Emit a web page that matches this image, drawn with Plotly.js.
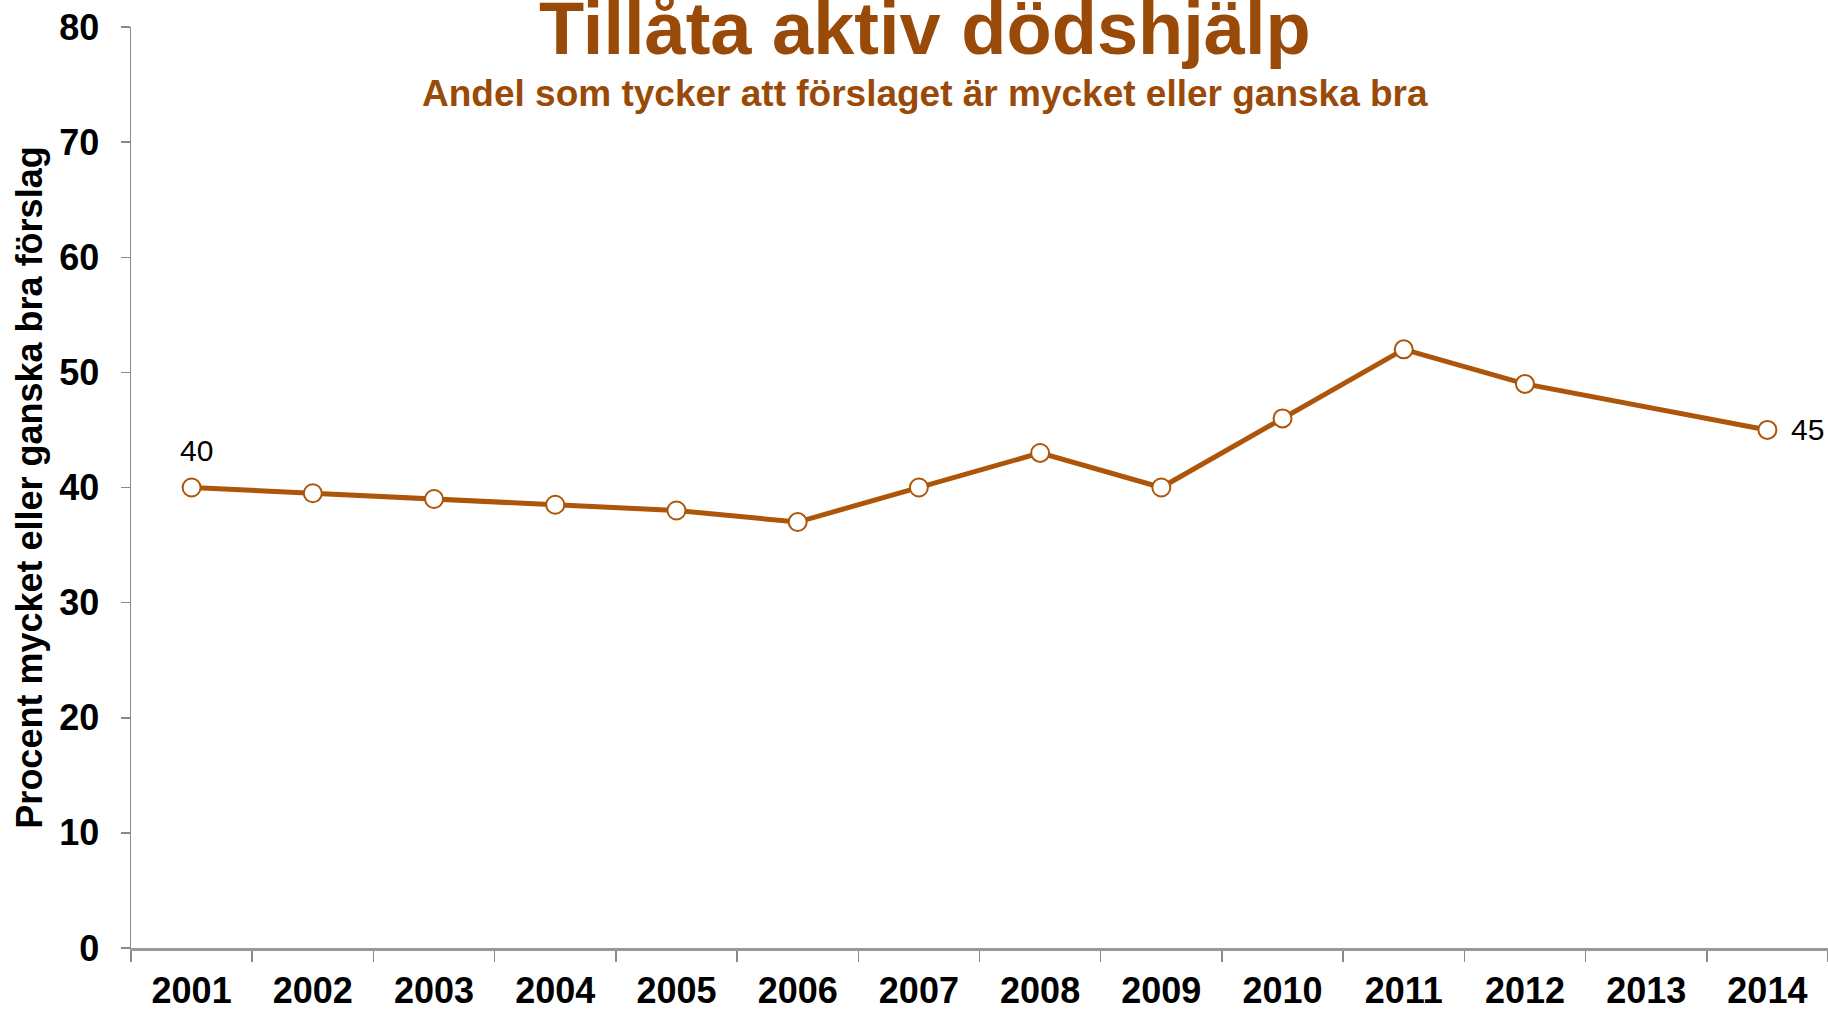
<!DOCTYPE html>
<html>
<head>
<meta charset="utf-8">
<script src="https://cdn.plot.ly/plotly-3.0.1.min.js"></script>
<style>html,body{margin:0;padding:0;background:#fff;}#chart{width:1828px;height:1009px;}</style>
</head>
<body>
<div id="chart"></div>
<script>
const years = ['2001','2002','2003','2004','2005','2006','2007','2008','2009','2010','2011','2012','2013','2014'];
const values = [40, 39.5, 39, 38.5, 38, 37, 40, 43, 40, 46, 52, 49, null, 45];
const labels = ['40','','','','','','','','','','','','','45'];
const yTicks = [0,10,20,30,40,50,60,70,80];

const titleText = 'Tillåta aktiv dödshjälp';
const subtitleText = 'Andel som tycker att förslaget är mycket eller ganska bra';
const yTitleText = 'Procent mycket eller ganska bra förslag';

const brown = '#AD5508';
const titleBrown = '#9A4A08';
const fontFam = '"Liberation Sans", Arial, Helvetica, sans-serif';

const trace = {
  x: years,
  y: values,
  type: 'scatter',
  mode: 'lines+markers',
  connectgaps: true,
  cliponaxis: false,
  line: {color: brown, width: 5},
  marker: {size: 18, color: '#ffffff', line: {color: brown, width: 2}},
  hoverinfo: 'x+y'
};

// value labels, placed at the data points (category index on the x axis)
const valueLabels = [];
labels.forEach((t, i) => {
  if (!t) return;
  const last = i === labels.length - 1;
  valueLabels.push({
    text: t, x: i, y: values[i], xref: 'x', yref: 'y', showarrow: false,
    xanchor: last ? 'left' : 'center', yanchor: 'middle',
    xshift: last ? 22 : 5, yshift: last ? 0 : 37,
    font: {family: fontFam, size: 30, color: '#000'}
  });
});

const layout = {
  width: 1828,
  height: 1009,
  margin: {l: 131, r: 0, t: 27, b: 61, pad: 0},
  paper_bgcolor: '#fff',
  plot_bgcolor: '#fff',
  showlegend: false,
  font: {family: fontFam, color: '#000'},
  xaxis: {
    type: 'category',
    range: [-0.5, 13.5],
    tickson: 'boundaries',
    ticks: 'outside',
    ticklen: 11,
    tickwidth: 1.5,
    tickcolor: '#888',
    showline: true,
    linecolor: '#999',
    linewidth: 2.5,
    showgrid: false,
    zeroline: false,
    tickfont: {family: fontFam, size: 36, color: '#000', weight: 'bold'},
    ticklabelstandoff: 9
  },
  yaxis: {
    range: [0, 80],
    tickvals: yTicks,
    ticktext: yTicks.map(String),
    ticks: 'outside',
    ticklen: 9,
    tickwidth: 1.5,
    tickcolor: '#888',
    showline: true,
    linecolor: '#888',
    linewidth: 1.5,
    showgrid: false,
    zeroline: false,
    tickfont: {family: fontFam, size: 36, color: '#000', weight: 'bold'},
    ticklabelstandoff: 14,
    title: {text: yTitleText, font: {family: fontFam, size: 36, color: '#000', weight: 'bold'}, standoff: 5}
  },
  annotations: [
    {text: titleText, xref: 'paper', yref: 'paper', x: (925 - 131) / 1697, y: 1 - 1 / 921, xanchor: 'center', yanchor: 'middle', showarrow: false,
     font: {family: fontFam, size: 74, color: titleBrown, weight: 'bold'}},
    {text: subtitleText, xref: 'paper', yref: 'paper', x: (925 - 131) / 1697, y: 1 - 66 / 921, xanchor: 'center', yanchor: 'middle', showarrow: false,
     font: {family: fontFam, size: 37, color: titleBrown, weight: 'bold'}}
  ].concat(valueLabels)
};

Plotly.newPlot('chart', [trace], layout, {displayModeBar: false, staticPlot: true});
</script>
</body>
</html>
